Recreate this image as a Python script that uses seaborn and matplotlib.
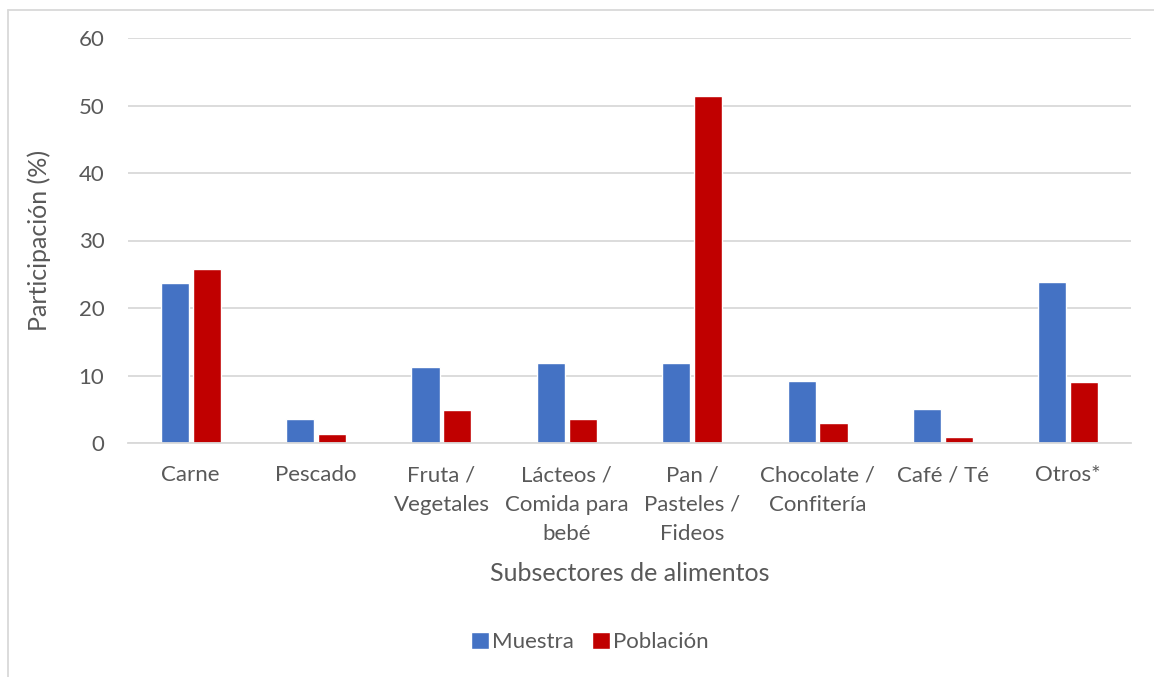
import pandas as pd
import matplotlib.pyplot as plt
import seaborn as sns
from matplotlib.lines import Line2D

# Data
subsectores = ['Carne', 'Pescado', 'Fruta /\nVegetales', 'Lácteos /\nComida para\nbebé',
               'Pan /\nPasteles /\nFideos', 'Chocolate /\nConfitería', 'Café / Té', 'Otros*']
muestra = [23.7, 3.5, 11.3, 11.8, 11.8, 9.2, 5.1, 23.9]
poblacion = [25.8, 1.4, 4.9, 3.5, 51.4, 2.9, 0.85, 9.0]
series = ['Muestra', 'Población']
colores = ['#4472C4', '#C00000']

df = pd.DataFrame({
    'subsector': subsectores * 2,
    'valor': muestra + poblacion,
    'serie': [series[0]] * len(subsectores) + [series[1]] * len(subsectores),
})

sns.set_style('white')
plt.rcParams['font.family'] = ['Lato', 'DejaVu Sans']
gris = '#595959'

fig = plt.figure(figsize=(11.54, 6.77), dpi=100)
ax = fig.add_axes([128 / 1154, 1 - 443 / 677, (1131 - 128) / 1154, (443 - 38) / 677])

sns.barplot(data=df, x='subsector', y='valor', hue='serie', order=subsectores,
            hue_order=series, palette=colores, width=0.51, gap=0.12,
            saturation=1, ax=ax)

ax.set_ylim(0, 60)
ax.set_yticks(range(0, 61, 10))
ax.yaxis.grid(True, color='#D9D9D9', linewidth=1.3)
ax.set_axisbelow(True)
for s in ['top', 'right', 'left']:
    ax.spines[s].set_visible(False)
ax.spines['bottom'].set_color('#D9D9D9')
ax.spines['bottom'].set_linewidth(1.3)
ax.tick_params(axis='both', length=0, labelsize=16, colors=gris)
ax.tick_params(axis='y', pad=17)
ax.tick_params(axis='x', pad=16)
for lbl in ax.get_xticklabels():
    lbl.set_linespacing(1.6)

ax.set_xlabel('Subsectores de alimentos', fontsize=18, color=gris, labelpad=13)
ax.set_ylabel('Participación (%)', fontsize=18, color=gris, labelpad=20)

handles, labels = ax.get_legend_handles_labels()
ax.get_legend().remove()
fig.legend(handles, labels, loc='center', bbox_to_anchor=(590 / 1154, 1 - 642 / 677),
           ncol=2, frameon=False, fontsize=16, labelcolor=gris,
           handlelength=0.8, handleheight=0.8, handletextpad=0.15, columnspacing=0.8)

# outer chart border (left and top only, as in the cropped screenshot)
fig.add_artist(Line2D([7.5 / 1154, 7.5 / 1154], [0, 1 - 9.5 / 677], color='#D9D9D9', lw=1.3))
fig.add_artist(Line2D([7.5 / 1154, 1], [1 - 9.5 / 677, 1 - 9.5 / 677], color='#D9D9D9', lw=1.3))

plt.savefig('out.png', dpi=100)
plt.close()
